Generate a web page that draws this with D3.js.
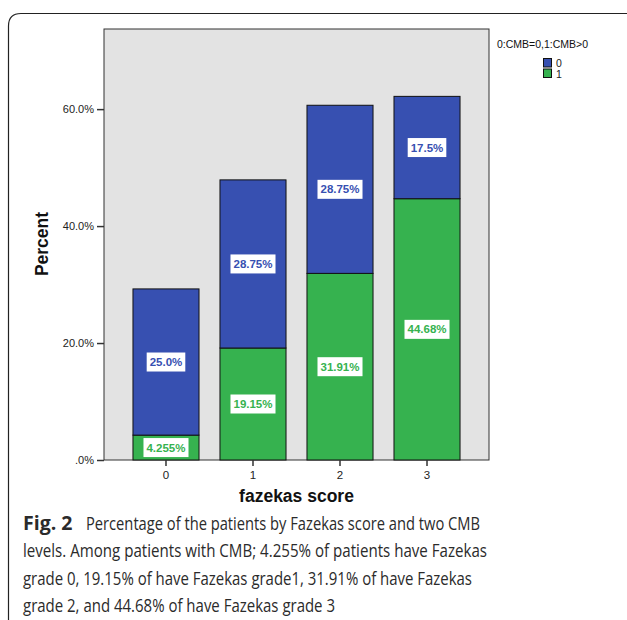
<!DOCTYPE html>
<html><head><meta charset="utf-8">
<script src="https://cdn.jsdelivr.net/npm/d3@7"></script>
<style>body{margin:0;background:#fff}svg{display:block}</style>
</head><body>
<svg id="c" width="627" height="620"></svg>
<script>
const categories = ["0","1","2","3"];
const cmb1 = [4.255, 19.15, 31.91, 44.68];   // green, bottom
const cmb0 = [25.0, 28.75, 28.75, 17.5];     // blue, top
const labels1 = ["4.255%","19.15%","31.91%","44.68%"];
const labels0 = ["25.0%","28.75%","28.75%","17.5%"];
const yTicks = [0, 20, 40, 60];
const yTickLabels = [".0%","20.0%","40.0%","60.0%"];
const captionLabel = "Fig. 2";
const captionLines = [
  "Percentage of the patients by Fazekas score and two CMB",
  "levels. Among patients with CMB; 4.255% of patients have Fazekas",
  "grade 0, 19.15% of have Fazekas grade1, 31.91% of have Fazekas",
  "grade 2, and 44.68% of have Fazekas grade 3"
];
const captionStart = [86, 23, 23, 23];
const captionEnd = [480, 487, 472, 335];

const BLUE = "#3750b1", GREEN = "#36b24f";
const svg = d3.select("#c");
const L = 104, R = 489, T = 29, B = 460;

// frame
svg.append("path").attr("d", "M8.5,620 L8.5,26 Q8.5,13.5 21,13.5 L627,13.5")
  .attr("fill","none").attr("stroke","#222").attr("stroke-width",1.2);

const x = d3.scaleBand().domain(categories).range([L, R]).paddingInner(0.241).paddingOuter(0.333);
const y = d3.scaleLinear().domain([0, 73.7]).range([B, T]);

svg.append("rect").attr("x",L).attr("y",T).attr("width",R-L).attr("height",B-T)
  .attr("fill","#e3e3e3").attr("stroke","#333").attr("stroke-width",1);

const data = categories.map((c,i)=>({c, g:cmb1[i], b:cmb0[i], lg:labels1[i], lb:labels0[i]}));
const bars = svg.append("g");
data.forEach(d=>{
  bars.append("rect").attr("x",x(d.c)).attr("width",x.bandwidth())
    .attr("y",y(d.g)).attr("height",y(0)-y(d.g)).attr("fill",GREEN).attr("stroke","#111").attr("stroke-width",1);
  bars.append("rect").attr("x",x(d.c)).attr("width",x.bandwidth())
    .attr("y",y(d.g+d.b)).attr("height",y(d.g)-y(d.g+d.b)).attr("fill",BLUE).attr("stroke","#111").attr("stroke-width",1);
});

function label(cx, cy, txt, col){
  const g = svg.append("g");
  const t = g.append("text").attr("x",cx).attr("y",cy).attr("dy","0.36em").attr("text-anchor","middle")
    .attr("font-family","Liberation Sans, Arial, sans-serif").attr("font-weight","bold").attr("font-size",11.5)
    .attr("fill",col).text(txt);
  const bb = t.node().getBBox();
  g.insert("rect","text").attr("x",bb.x-3).attr("y",cy-9.5).attr("width",bb.width+6).attr("height",19).attr("fill","#fff");
}
data.forEach(d=>{
  const cx = x(d.c)+x.bandwidth()/2;
  label(cx, y(d.g/2), d.lg, GREEN);
  label(cx, y(d.g + d.b/2), d.lb, BLUE);
});

// y axis
const ya = svg.append("g").attr("transform",`translate(${L},0)`)
  .call(d3.axisLeft(y).tickValues(yTicks).tickFormat((d,i)=>yTickLabels[i]).tickSize(7).tickPadding(3));
ya.select(".domain").remove();
ya.selectAll("line").attr("stroke","#333").attr("stroke-width",1.5);
ya.selectAll("text").attr("font-family","Liberation Sans, Arial, sans-serif").attr("font-size",11).attr("fill","#222");

// x axis
const xa = svg.append("g").attr("transform",`translate(0,${B})`)
  .call(d3.axisBottom(x).tickSize(6).tickPadding(5));
xa.select(".domain").remove();
xa.selectAll("line").attr("stroke","#333").attr("stroke-width",1.5);
xa.selectAll("text").attr("font-family","Liberation Sans, Arial, sans-serif").attr("font-size",11.5).attr("fill","#222");

// titles
svg.append("text").attr("x",(L+R)/2).attr("y",502).attr("text-anchor","middle")
  .attr("font-family","Liberation Sans, Arial, sans-serif").attr("font-weight","bold").attr("font-size",17.5).attr("fill","#111").text("fazekas score");
svg.append("text").attr("transform","translate(48,244) rotate(-90)").attr("text-anchor","middle")
  .attr("font-family","Liberation Sans, Arial, sans-serif").attr("font-weight","bold").attr("font-size",17.5).attr("fill","#111").text("Percent");

// legend
const lg = svg.append("g");
lg.append("text").attr("x",497).attr("y",48).attr("font-family","Liberation Sans, Arial, sans-serif").attr("font-size",10.5).attr("fill","#111").text("0:CMB=0,1:CMB>0");
[["0",BLUE],["1",GREEN]].forEach((e,i)=>{
  lg.append("rect").attr("x",543.5).attr("y",58.5+i*10.5).attr("width",8).attr("height",8.5).attr("fill",e[1]).attr("stroke","#111").attr("stroke-width",1);
  lg.append("text").attr("x",556).attr("y",67+i*10.5).attr("font-family","Liberation Sans, Arial, sans-serif").attr("font-size",10.5).attr("fill","#222").text(e[0]);
});

// caption
const cap = svg.append("g").attr("font-family","Open Sans, Noto Sans, sans-serif").attr("font-size",18).attr("fill","#2b2b2b");
cap.append("text").attr("x",23).attr("y",530).attr("font-weight","bold").attr("font-size",19.5).text(captionLabel);
captionLines.forEach((ln,i)=>{
  cap.append("text").attr("x",captionStart[i]).attr("y",530+i*27.3)
    .attr("textLength",captionEnd[i]-captionStart[i]).attr("lengthAdjust","spacingAndGlyphs").text(ln);
});
</script>
</body></html>
